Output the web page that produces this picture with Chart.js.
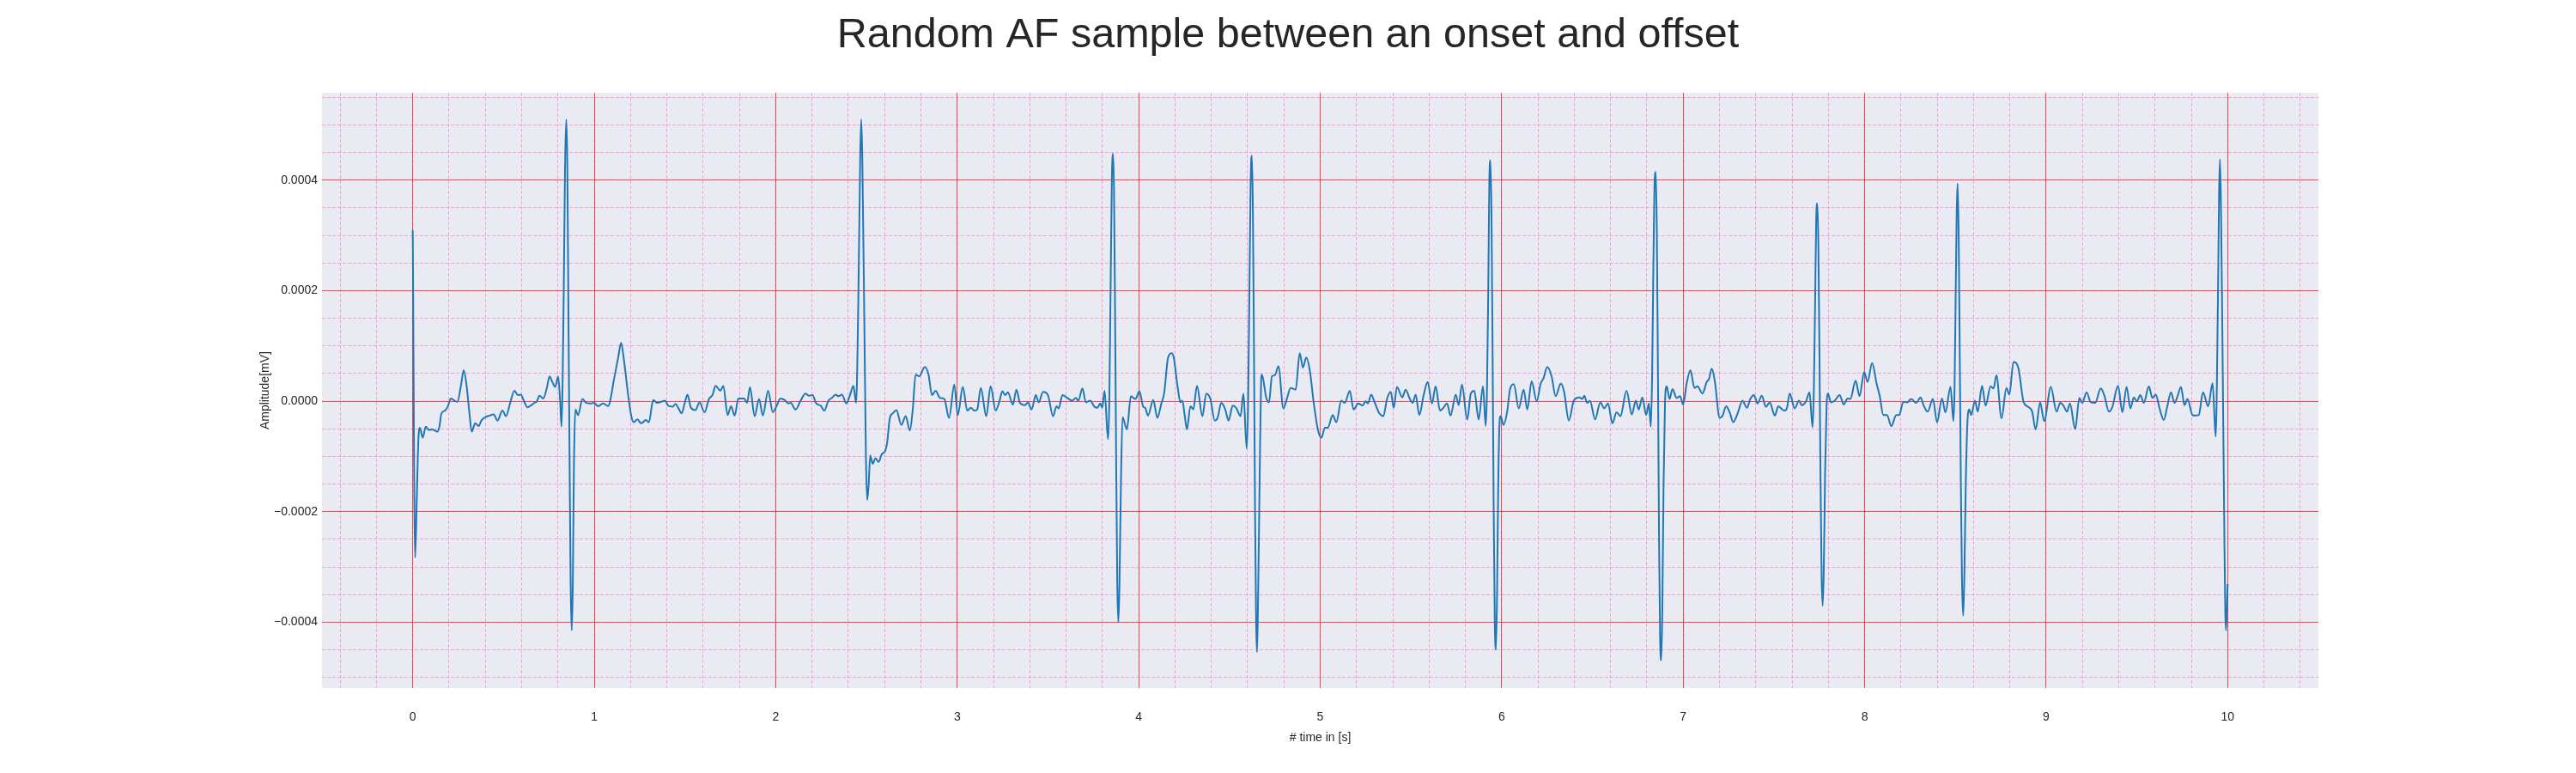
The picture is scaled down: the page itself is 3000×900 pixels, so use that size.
<!DOCTYPE html>
<html>
<head>
<meta charset="utf-8">
<title>Random AF sample between an onset and offset</title>
<script src="https://cdn.jsdelivr.net/npm/chart.js@4.4.1/dist/chart.umd.min.js"></script>
<style>
    html, body { margin: 0; padding: 0; background: #ffffff; }
    #ecgChart { display: block; }
</style>
</head>
<body>
<canvas id="ecgChart" width="3000" height="900"></canvas>
<script>
// time of each reading, in seconds
const timeS = [
    0.000, 0.013, 0.022, 0.031, 0.039, 0.055, 0.072, 0.088, 0.107, 0.123, 0.135, 0.147, 0.158, 0.178, 0.194,
    0.210, 0.230, 0.246, 0.265, 0.281, 0.296, 0.312, 0.325, 0.344, 0.363, 0.378, 0.399, 0.423, 0.446, 0.467,
    0.494, 0.514, 0.536, 0.560, 0.580, 0.596, 0.612, 0.632, 0.654, 0.675, 0.683, 0.698, 0.719, 0.738, 0.754,
    0.769, 0.785, 0.801, 0.812, 0.820,
    0.826, 0.832, 0.839, 0.846, 0.852, 0.858, 0.864, 0.870, 0.876, 0.882, 0.888, 0.896,
    0.911, 0.935, 0.956, 0.982, 0.998, 1.022, 1.049, 1.077, 1.088, 1.109, 1.132, 1.148, 1.164, 1.187, 1.203,
    1.217, 1.238, 1.258, 1.285, 1.301, 1.325, 1.348, 1.369, 1.391, 1.407, 1.432, 1.448, 1.463, 1.482, 1.498,
    1.514, 1.533, 1.558, 1.580, 1.608, 1.632, 1.653, 1.668, 1.695, 1.711, 1.735, 1.754, 1.774, 1.794, 1.813,
    1.826, 1.842, 1.858, 1.884, 1.908, 1.929, 1.958, 1.984, 2.003, 2.026, 2.050, 2.069, 2.082, 2.110, 2.137,
    2.164, 2.184, 2.203, 2.223, 2.247, 2.268, 2.290, 2.310, 2.329, 2.346, 2.365, 2.389, 2.409, 2.428, 2.443,
    2.455, 2.465, 2.471, 2.477, 2.488, 2.497, 2.504, 2.512, 2.521,
    2.534, 2.550, 2.566, 2.586, 2.600, 2.613, 2.629, 2.645, 2.665, 2.692, 2.716, 2.739, 2.755, 2.771, 2.791,
    2.821, 2.842, 2.861, 2.881, 2.905, 2.929, 2.955, 2.984, 3.003, 3.031, 3.055, 3.075, 3.094, 3.110, 3.130,
    3.160, 3.184, 3.212, 3.231, 3.249, 3.264, 3.279, 3.307, 3.326, 3.346, 3.375, 3.389, 3.410, 3.433, 3.449,
    3.473, 3.500, 3.528, 3.547, 3.559, 3.580, 3.607, 3.633, 3.654, 3.667, 3.690, 3.709, 3.733, 3.756, 3.772,
    3.788, 3.799, 3.812, 3.831,
    3.838, 3.845, 3.852, 3.858, 3.864, 3.870, 3.876, 3.882, 3.888, 3.894, 3.902, 3.911,
    3.935, 3.957, 3.982, 4.004, 4.025, 4.036, 4.051, 4.080, 4.103, 4.124, 4.140, 4.162, 4.182, 4.193, 4.214,
    4.230, 4.241, 4.253, 4.266, 4.285, 4.301, 4.321, 4.351, 4.372, 4.395, 4.419, 4.435, 4.455, 4.477, 4.495,
    4.518, 4.537, 4.561, 4.577, 4.595,
    4.603, 4.610, 4.617, 4.623, 4.629, 4.635, 4.641, 4.647, 4.652, 4.658, 4.666, 4.674,
    4.679, 4.703, 4.718, 4.734, 4.750, 4.770, 4.797, 4.816, 4.837, 4.865, 4.887, 4.905, 4.923, 4.944, 4.963,
    4.987, 5.007, 5.026, 5.042, 5.069, 5.089, 5.116, 5.136, 5.163, 5.184, 5.210, 5.234, 5.250, 5.263, 5.281,
    5.300, 5.326, 5.348, 5.368, 5.389, 5.405, 5.423, 5.452, 5.471, 5.494, 5.510, 5.526, 5.546, 5.570, 5.592,
    5.616, 5.636, 5.660, 5.679, 5.699, 5.718, 5.747, 5.763, 5.781, 5.810, 5.830, 5.849, 5.873, 5.897, 5.912,
    5.919, 5.926, 5.932, 5.938, 5.944, 5.950, 5.956, 5.962, 5.968, 5.974, 5.981, 5.988,
    5.994, 6.010, 6.031, 6.046, 6.067, 6.094, 6.121, 6.141, 6.165, 6.193, 6.215, 6.231, 6.251, 6.275, 6.297,
    6.326, 6.344, 6.370, 6.397, 6.428, 6.444, 6.455, 6.471, 6.486, 6.515, 6.543, 6.565, 6.586, 6.610, 6.633,
    6.654, 6.688, 6.717, 6.739, 6.755, 6.775, 6.796, 6.811, 6.822,
    6.829, 6.836, 6.843, 6.849, 6.855, 6.861, 6.867, 6.873, 6.879, 6.885, 6.892, 6.900,
    6.909, 6.925, 6.941, 6.964, 6.983, 7.000, 7.019, 7.040, 7.062, 7.079, 7.106, 7.130, 7.142, 7.158, 7.174,
    7.201, 7.216, 7.237, 7.256, 7.276, 7.300, 7.327, 7.351, 7.370, 7.390, 7.410, 7.433, 7.456, 7.477, 7.505,
    7.524, 7.556, 7.571, 7.587, 7.614, 7.638, 7.653, 7.677, 7.696, 7.713,
    7.720, 7.727, 7.733, 7.739, 7.745, 7.751, 7.757, 7.763, 7.769, 7.775, 7.782, 7.790,
    7.798, 7.814, 7.835, 7.862, 7.885, 7.906, 7.921, 7.950, 7.972, 7.997, 8.016, 8.041, 8.067, 8.082, 8.103,
    8.123, 8.147, 8.174, 8.190, 8.213, 8.234, 8.257, 8.284, 8.308, 8.324, 8.347, 8.376, 8.399, 8.426, 8.445,
    8.473, 8.489,
    8.495, 8.501, 8.507, 8.512, 8.518, 8.524, 8.530, 8.536, 8.543, 8.549, 8.557, 8.566,
    8.576, 8.587, 8.608, 8.623, 8.647, 8.666, 8.694, 8.710, 8.726, 8.754, 8.781, 8.797, 8.820, 8.847, 8.876,
    8.900, 8.923, 8.942, 8.967, 8.989, 9.026, 9.057, 9.078, 9.097, 9.115, 9.131, 9.160, 9.183, 9.199, 9.223,
    9.246, 9.270, 9.301, 9.320, 9.346, 9.365, 9.396, 9.420, 9.443, 9.464, 9.483, 9.499, 9.519, 9.538, 9.566,
    9.585, 9.604, 9.625, 9.648, 9.667, 9.688, 9.707, 9.724, 9.743, 9.762, 9.779, 9.806, 9.825, 9.841, 9.864,
    9.893, 9.917, 9.934,
    9.947, 9.953, 9.958, 9.964, 9.970, 9.976, 9.982, 9.987, 9.991, 10.000
];

// amplitude of each reading, in mV
const ampMv = [
    310e-6, -283e-6, -180e-6, -70e-6, -48e-6, -66e-6, -46e-6, -52e-6, -51e-6, -53e-6, -55e-6, -46e-6, -22e-6, -17e-6, -9e-6,
    5e-6, 1e-6, -1e-6, 27e-6, 56e-6, 30e-6, -20e-6, -55e-6, -40e-6, -45e-6, -35e-6, -29e-6, -26e-6, -24e-6, -35e-6,
    -17e-6, -27e-6, -4e-6, 19e-6, 11e-6, 12e-6, 1e-6, -11e-6, -7e-6, -2e-6, -1e-6, 10e-6, 5e-6, 23e-6, 45e-6,
    35e-6, 26e-6, 45e-6, 1e-6, -46e-6,
    40e-6, 200e-6, 420e-6, 510e-6, 420e-6, 150e-6, -100e-6, -330e-6, -415e-6, -330e-6, -120e-6, -15e-6,
    -25e-6, 4e-6, -3e-6, -4e-6, -3e-6, -9e-6, -4e-6, -9e-6, 1e-6, 40e-6, 79e-6, 106e-6, 74e-6, 11e-6, -25e-6,
    -38e-6, -33e-6, -40e-6, -34e-6, -38e-6, 2e-6, -3e-6, -1e-6, 1e-6, -8e-6, -10e-6, -5e-6, -12e-6, -22e-6, -4e-6,
    12e-6, -12e-6, -16e-6, -2e-6, -20e-6, 4e-6, 12e-6, 28e-6, 19e-6, 28e-6, -25e-6, -9e-6, -26e-6, 5e-6, 5e-6,
    5e-6, -3e-6, 25e-6, -27e-6, 4e-6, -26e-6, 19e-6, -20e-6, -10e-6, 5e-6, 2e-6, -4e-6, -3e-6, -15e-6, 1e-6,
    14e-6, 10e-6, 11e-6, -4e-6, -8e-6, -17e-6, 1e-6, 6e-6, 12e-6, 9e-6, 12e-6, -4e-6, 11e-6, 28e-6, -3e-6,
    180e-6, 430e-6, 510e-6, 440e-6, 150e-6, -100e-6, -179e-6, -150e-6, -98e-6,
    -113e-6, -103e-6, -110e-6, -95e-6, -92e-6, -77e-6, -30e-6, -22e-6, -16e-6, -43e-6, -27e-6, -53e-6, -15e-6, 48e-6, 45e-6,
    62e-6, 48e-6, 11e-6, 19e-6, 6e-6, 4e-6, -30e-6, 30e-6, -25e-6, 26e-6, -17e-6, -12e-6, -17e-6, -15e-6, 24e-6,
    -27e-6, 27e-6, -17e-6, -2e-6, 18e-6, 11e-6, 16e-6, -6e-6, 21e-6, -3e-6, -7e-6, -2e-6, -15e-6, 11e-6, -2e-6,
    17e-6, 11e-6, -27e-6, -9e-6, -13e-6, 11e-6, 6e-6, 1e-6, 6e-6, 1e-6, 23e-6, -2e-6, 1e-6, -10e-6, -12e-6,
    -4e-6, -12e-6, 19e-6, -69e-6,
    0, 200e-6, 400e-6, 448e-6, 380e-6, 150e-6, -120e-6, -330e-6, -400e-6, -330e-6, -150e-6, -29e-6,
    -51e-6, 9e-6, 4e-6, 18e-6, -10e-6, -12e-6, -26e-6, 2e-6, -30e-6, -5e-6, 14e-6, 79e-6, 87e-6, 79e-6, 27e-6,
    -2e-6, 1e-6, -25e-6, -51e-6, -9e-6, -15e-6, 28e-6, -27e-6, 14e-6, 4e-6, -35e-6, -30e-6, -3e-6, -15e-6, -35e-6,
    -8e-6, -12e-6, -27e-6, 14e-6, -86e-6,
    0, 200e-6, 400e-6, 445e-6, 350e-6, 100e-6, -200e-6, -400e-6, -454e-6, -350e-6, -150e-6, 30e-6,
    48e-6, 6e-6, -2e-6, 45e-6, 47e-6, 63e-6, -13e-6, 4e-6, 24e-6, 21e-6, 87e-6, 61e-6, 79e-6, 53e-6, 1e-6,
    -51e-6, -66e-6, -48e-6, -48e-6, -25e-6, -38e-6, 1e-6, -3e-6, 19e-6, -15e-6, -4e-6, -8e-6, 0, -4e-6, 12e-6,
    -2e-6, -22e-6, -27e-6, 4e-6, 17e-6, -12e-6, 26e-6, 7e-6, 21e-6, 4e-6, -3e-6, 12e-6, -25e-6, 11e-6, 35e-6,
    -4e-6, 27e-6, -17e-6, -12e-6, -4e-6, -26e-6, 12e-6, -7e-6, 30e-6, -33e-6, 14e-6, 19e-6, -33e-6, 27e-6, -45e-6,
    20e-6, 200e-6, 400e-6, 436e-6, 330e-6, 80e-6, -200e-6, -400e-6, -450e-6, -360e-6, -150e-6, -40e-6,
    -27e-6, -43e-6, -17e-6, 22e-6, 31e-6, -13e-6, 21e-6, -15e-6, 36e-6, 0, 32e-6, 42e-6, 62e-6, 45e-6, 9e-6,
    32e-6, 17e-6, -35e-6, 1e-6, 7e-6, 4e-6, 10e-6, -3e-6, 1e-6, -33e-6, -2e-6, -13e-6, -4e-6, -40e-6, -20e-6,
    -27e-6, 19e-6, -24e-6, 1e-6, -15e-6, 7e-6, -25e-6, -4e-6, -46e-6,
    50e-6, 250e-6, 400e-6, 415e-6, 300e-6, 50e-6, -250e-6, -430e-6, -469e-6, -380e-6, -150e-6, 0,
    27e-6, 4e-6, 22e-6, 6e-6, 9e-6, -6e-6, 32e-6, 56e-6, 24e-6, 27e-6, 14e-6, 35e-6, 40e-6, 59e-6, 37e-6,
    -30e-6, -27e-6, -9e-6, -20e-6, -38e-6, -22e-6, 1e-6, -12e-6, 4e-6, 11e-6, -4e-6, 10e-6, -10e-6, -2e-6, -26e-6,
    -9e-6, -17e-6, -13e-6, 14e-6, -13e-6, 1e-6, -7e-6, 0, 16e-6, -47e-6,
    20e-6, 180e-6, 330e-6, 358e-6, 280e-6, 80e-6, -150e-6, -320e-6, -370e-6, -300e-6, -130e-6, -10e-6,
    14e-6, -2e-6, 1e-6, 11e-6, -6e-6, 5e-6, 4e-6, 37e-6, 9e-6, 53e-6, 35e-6, 69e-6, 30e-6, 11e-6, -25e-6,
    -25e-6, -45e-6, -25e-6, -25e-6, -1e-6, -2e-6, 4e-6, -3e-6, 7e-6, -7e-6, -19e-6, 4e-6, -38e-6, 5e-6, -20e-6,
    26e-6, -36e-6,
    20e-6, 180e-6, 340e-6, 394e-6, 300e-6, 80e-6, -150e-6, -320e-6, -388e-6, -320e-6, -150e-6, -40e-6,
    -15e-6, -25e-6, 1e-6, -19e-6, 28e-6, -8e-6, 27e-6, 23e-6, 47e-6, -31e-6, 24e-6, 12e-6, 71e-6, 60e-6, -2e-6,
    -10e-6, -19e-6, -51e-6, -2e-6, -36e-6, 26e-6, -19e-6, -3e-6, -9e-6, -19e-6, -4e-6, -50e-6, 6e-6, -3e-6, 16e-6,
    -2e-6, -3e-6, 23e-6, 11e-6, -19e-6, -10e-6, 28e-6, -20e-6, 26e-6, -13e-6, 7e-6, 0, 11e-6, -3e-6, 27e-6,
    6e-6, 12e-6, -13e-6, -34e-6, -10e-6, 16e-6, -3e-6, 9e-6, 26e-6, -7e-6, 4e-6, -25e-6, -26e-6, -25e-6, 16e-6,
    -9e-6, 33e-6, -64e-6,
    200e-6, 380e-6, 438e-6, 330e-6, 150e-6, -50e-6, -250e-6, -380e-6, -415e-6, -331e-6
];

// labelled ticks
const xTicks = [0, 1, 2, 3, 4, 5, 6, 7, 8, 9, 10];
const yTicks = [-0.0004, -0.0002, 0, 0.0002, 0.0004];

// axis limits
const xRange = [-0.5, 10.5];
const yRange = [-0.000519, 0.000558];

(function () {
    "use strict";

    const textColor = '#262626';
    const majorGrid = 'rgba(255, 0, 0, 0.65)';
    const minorGrid = 'rgba(255, 100, 200, 0.55)';

    Chart.defaults.font.family = "'Liberation Sans', Arial, sans-serif";
    Chart.defaults.color = textColor;

    // minor gridlines every 0.2 s and 0.00005 mV
    let xMinor = [], yMinor = [];
    for (let i = -2; i <= 52; i++) xMinor.push(i / 5);
    for (let i = -10; i <= 11; i++) yMinor.push(i * 0.00005);

    const plotBackground = {
        id: 'plotBackground',
        beforeDraw(chart) {
            const { ctx, chartArea } = chart;
            ctx.save();
            ctx.fillStyle = '#EAEAF2';
            ctx.fillRect(chartArea.left, chartArea.top, chartArea.width, chartArea.height);
            ctx.restore();
        }
    };

    function fmtY(v) {
        if (Math.abs(v) < 1e-12) return '0.0000';
        return (v < 0 ? '\u2212' : '') + Math.abs(v).toFixed(4);
    }

    const points = timeS.map((t, i) => ({ x: t, y: ampMv[i] }));

    const ctx = document.getElementById('ecgChart').getContext('2d');
    new Chart(ctx, {
        type: 'line',
        data: {
            datasets: [{
                label: 'ECG',
                data: points,
                borderColor: '#1f77b4',
                borderWidth: 2,
                pointRadius: 0,
                fill: false,
                cubicInterpolationMode: 'monotone'
            }]
        },
        options: {
            responsive: false,
            animation: false,
            devicePixelRatio: 1,
            plugins: {
                legend: { display: false },
                tooltip: { enabled: false },
                title: {
                    display: true,
                    text: 'Random AF sample between an onset and offset',
                    color: textColor,
                    font: { size: 48.5, weight: 'normal' },
                    padding: { top: 13, bottom: 37 }
                }
            },
            scales: {
                xMinor: {
                    type: 'linear',
                    position: 'top',
                    min: xRange[0],
                    max: xRange[1],
                    afterBuildTicks: axis => { axis.ticks = xMinor.map(v => ({ value: v })); },
                    afterFit: axis => { axis.height = 0; },
                    grid: { color: minorGrid, lineWidth: 1, drawTicks: false, z: -2 },
                    border: { display: false, dash: [4, 2] },
                    ticks: { display: false }
                },
                yMinor: {
                    type: 'linear',
                    position: 'right',
                    min: yRange[0],
                    max: yRange[1],
                    afterBuildTicks: axis => { axis.ticks = yMinor.map(v => ({ value: v })); },
                    afterFit: axis => { axis.width = 300; },
                    grid: { color: minorGrid, lineWidth: 1, drawTicks: false, z: -2 },
                    border: { display: false, dash: [4, 2] },
                    ticks: { display: false }
                },
                x: {
                    type: 'linear',
                    position: 'bottom',
                    min: xRange[0],
                    max: xRange[1],
                    afterBuildTicks: axis => { axis.ticks = xTicks.map(v => ({ value: v })); },
                    afterFit: axis => { axis.height = 99; },
                    grid: { color: majorGrid, lineWidth: 1, drawTicks: false, z: -1 },
                    border: { display: false },
                    ticks: {
                        padding: 26,
                        maxRotation: 0,
                        font: { size: 14 },
                        callback: v => String(v)
                    },
                    title: {
                        display: true,
                        text: '# time in [s]',
                        font: { size: 14 },
                        padding: { top: 0, bottom: 32 }
                    }
                },
                y: {
                    type: 'linear',
                    position: 'left',
                    min: yRange[0],
                    max: yRange[1],
                    afterBuildTicks: axis => { axis.ticks = yTicks.map(v => ({ value: v })); },
                    afterFit: axis => { axis.width = 375; },
                    grid: { color: majorGrid, lineWidth: 1, drawTicks: false, z: -1 },
                    border: { display: false },
                    ticks: {
                        padding: 5,
                        font: { size: 14 },
                        callback: v => fmtY(v)
                    },
                    title: {
                        display: true,
                        text: 'Amplitude[mV]',
                        font: { size: 14 },
                        padding: { top: 301, bottom: 0 }
                    }
                }
            }
        },
        plugins: [plotBackground]
    });
})();
</script>
</body>
</html>
